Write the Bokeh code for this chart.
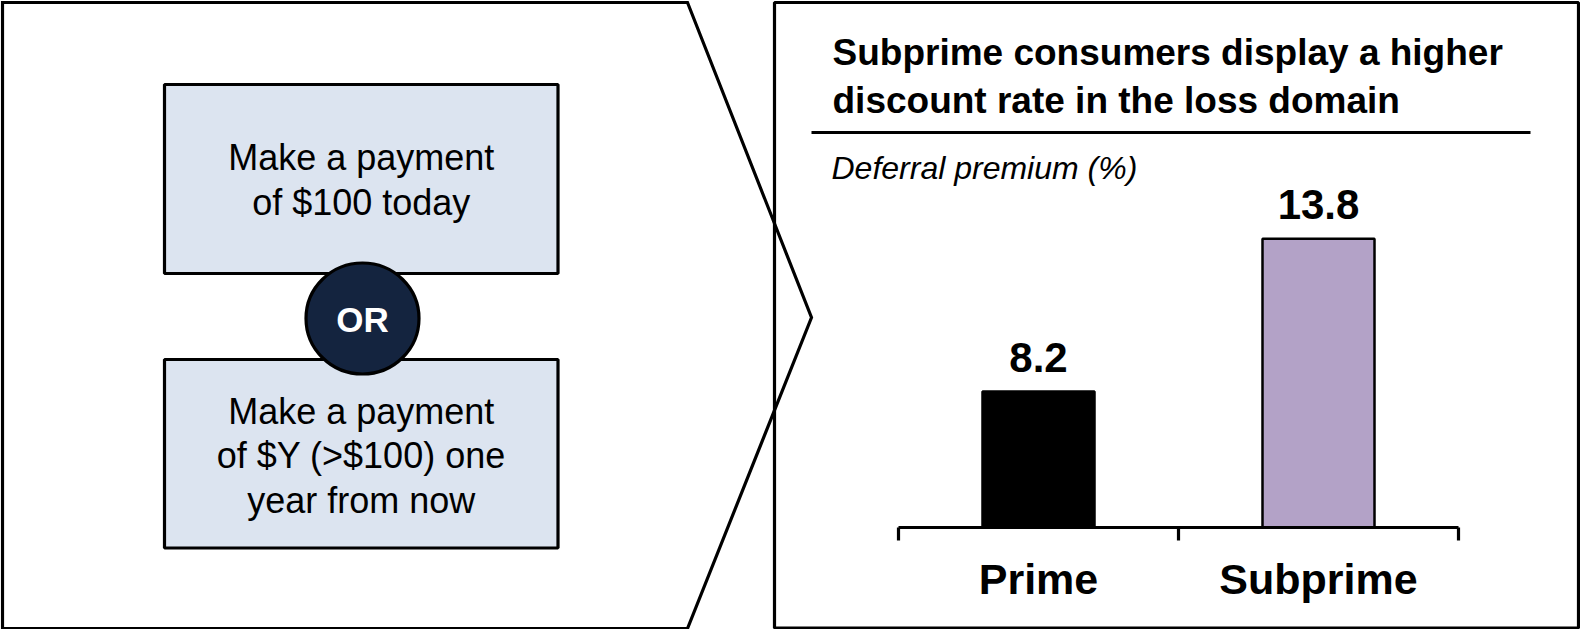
from bokeh.plotting import figure
from bokeh.models import Range1d
from bokeh.core.properties import value
from bokeh.embed import file_html
from bokeh.resources import INLINE

# ---- data -------------------------------------------------------------
categories = ["Prime", "Subprime"]
premium = [8.2, 13.8]
bar_colors = ["#000000", "#B3A2C7"]
value_labels = ["8.2", "13.8"]

title_lines = ["Subprime consumers display a higher",
               "discount rate in the loss domain"]
unit_label = "Deferral premium (%)"
option_now = ["Make a payment", "of $100 today"]
option_later = ["Make a payment", "of $Y (>$100) one", "year from now"]
connector = "OR"

# ---- canvas (pixel-like coordinates, y downwards) ---------------------
W, H = 1580, 629
FONT = value("Liberation Sans")


def lift(size):
    """Upward correction so that the text baseline lands on the given y."""
    return -0.31 * size


p = figure(width=W, height=H, x_range=Range1d(0, W), y_range=Range1d(H, 0),
           x_axis_type=None, y_axis_type=None, output_backend="svg",
           toolbar_location=None, min_border=0)
p.grid.visible = False
p.outline_line_color = None
p.background_fill_color = "white"
p.border_fill_color = "white"

# ---- left panel: the choice ------------------------------------------
# chevron outline
p.patch([2, 687, 811, 687, 2], [2, 2, 317, 628, 628],
        fill_color=None, line_color="black", line_width=3.2, line_join="miter")

box_x0, box_x1 = 164, 557.5
box_cx = (box_x0 + box_x1) / 2
p.quad(left=[box_x0, box_x0], right=[box_x1, box_x1],
       top=[84, 359], bottom=[273, 547.5],
       fill_color="#DCE4F0", line_color="black", line_width=3.2)

line_gap = 44.5
box_fs = 36
p.text(x=[box_cx] * len(option_now),
       y=[168.5 + i * line_gap for i in range(len(option_now))],
       y_offset=lift(box_fs),
       text=option_now, text_font=FONT, text_font_size=f"{box_fs}px",
       text_align="center", text_baseline="alphabetic", text_color="black")
p.text(x=[box_cx] * len(option_later),
       y=[422 + i * line_gap for i in range(len(option_later))],
       y_offset=lift(box_fs),
       text=option_later, text_font=FONT, text_font_size=f"{box_fs}px",
       text_align="center", text_baseline="alphabetic", text_color="black")

p.ellipse(x=[362], y=[318], width=[113], height=[111],
          fill_color="#14243F", line_color="black", line_width=3.2)
p.text(x=[362], y=[330], y_offset=lift(35), text=[connector], text_font=FONT,
       text_font_style="bold", text_font_size="35px", text_color="white",
       text_align="center", text_baseline="alphabetic")

# ---- right panel: the result -----------------------------------------
p.quad(left=[774], right=[1578], top=[2], bottom=[627.5],
       fill_color=None, line_color="black", line_width=3.2)

title_fs = 37
p.text(x=[832] * len(title_lines), y=[63, 111], y_offset=lift(title_fs),
       text=title_lines, text_font=FONT, text_font_style="bold",
       text_font_size=f"{title_fs}px", text_color="black",
       text_align="left", text_baseline="alphabetic")
p.segment(x0=[811], y0=[132], x1=[1530], y1=[132],
          line_color="black", line_width=3.2)
p.text(x=[831], y=[177], y_offset=lift(32), text=[unit_label], text_font=FONT,
       text_font_style="italic", text_font_size="32px", text_color="black",
       text_align="left", text_baseline="alphabetic")

# bar chart scales mapped into the right panel
slot_px = 280          # width of one category slot
first_center = 1038    # screen x of the first category
base_px = 527          # screen y of the category axis
px_per_unit = 27.3     # vertical scale
axis_start = 3.22      # value at the category axis

p.extra_x_ranges = {"cat": Range1d(-first_center / slot_px,
                                   (W - first_center) / slot_px)}
p.extra_y_ranges = {"val": Range1d(axis_start - (H - base_px) / px_per_unit,
                                   axis_start + base_px / px_per_unit)}

idx = list(range(len(categories)))
p.vbar(x=idx, top=premium, bottom=axis_start, width=0.4,
       fill_color=bar_colors, line_color="black", line_width=2.5,
       x_range_name="cat", y_range_name="val")

# category axis with ticks between and around the categories
edges = [i - 0.5 for i in range(len(categories) + 1)]
tick_len = 13 / px_per_unit
p.segment(x0=[edges[0]], y0=[axis_start], x1=[edges[-1]], y1=[axis_start],
          line_color="black", line_width=3.2,
          x_range_name="cat", y_range_name="val")
p.segment(x0=edges, y0=[axis_start] * len(edges), x1=edges,
          y1=[axis_start - tick_len] * len(edges),
          line_color="black", line_width=3.2,
          x_range_name="cat", y_range_name="val")

val_fs = 42
p.text(x=idx, y=premium, text=value_labels, y_offset=-21 + lift(val_fs),
       text_font=FONT, text_font_style="bold", text_font_size=f"{val_fs}px",
       text_color="black", text_align="center", text_baseline="alphabetic",
       x_range_name="cat", y_range_name="val")
cat_fs = 43
p.text(x=idx, y=[axis_start] * len(idx), text=categories,
       y_offset=65 + lift(cat_fs),
       text_font=FONT, text_font_style="bold", text_font_size=f"{cat_fs}px",
       text_color="black", text_align="center", text_baseline="alphabetic",
       x_range_name="cat", y_range_name="val")

open("out.html", "w").write(file_html(p, INLINE))
